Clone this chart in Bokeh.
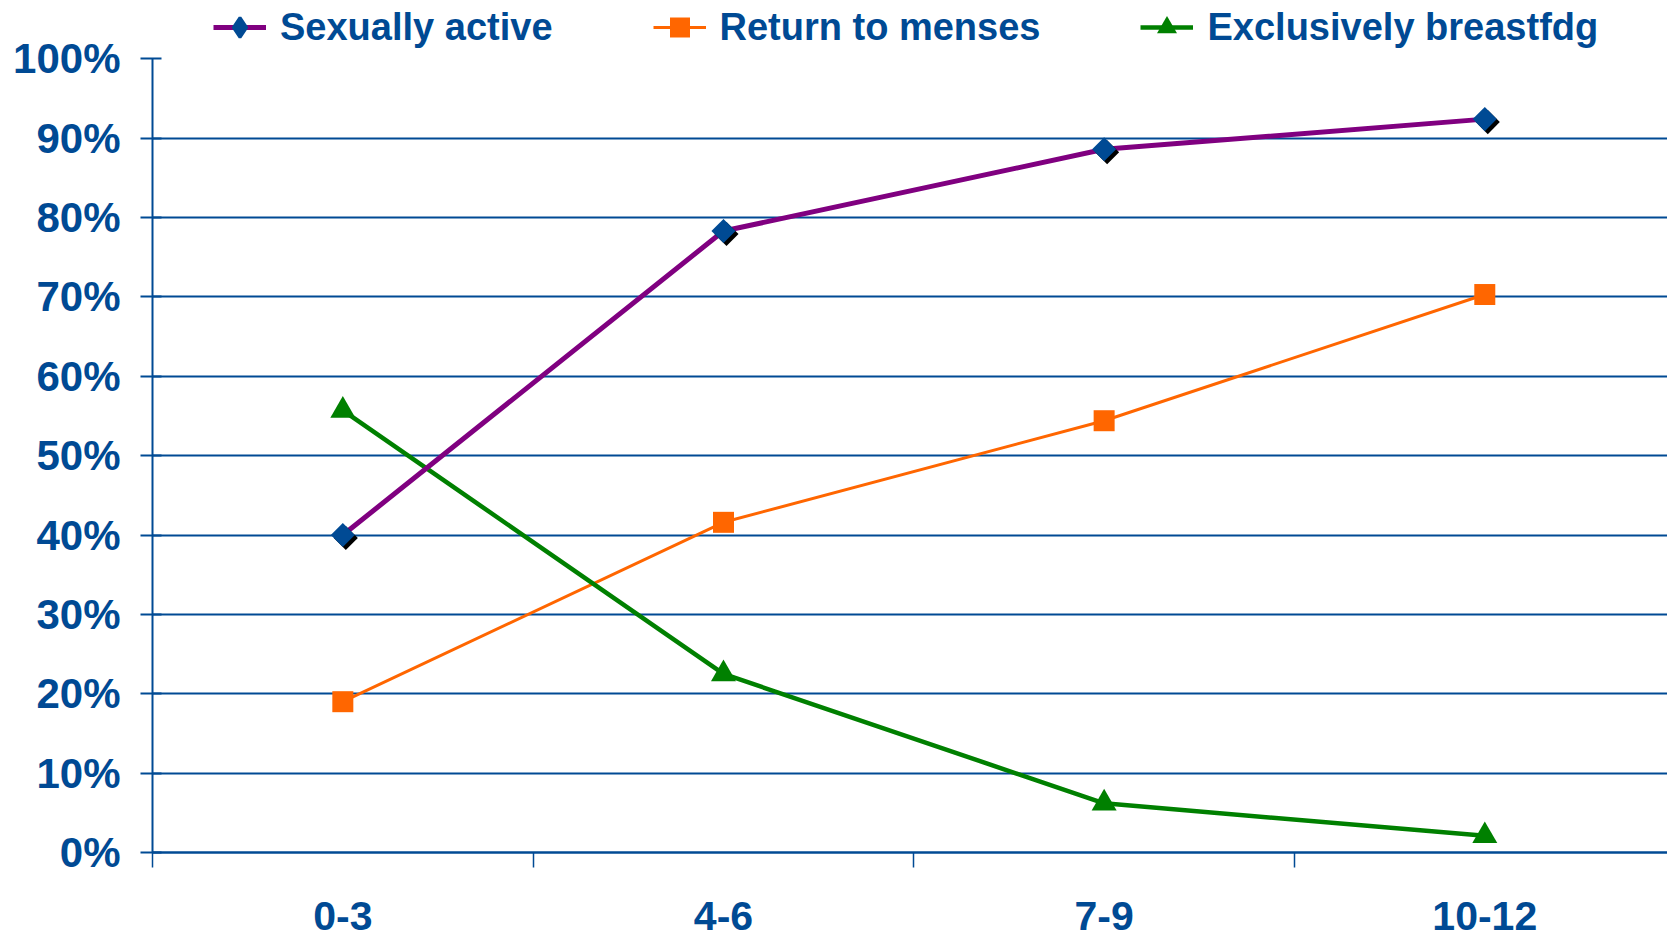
import math
from bokeh.plotting import figure
from bokeh.models import (Range1d, FixedTicker, NumeralTickFormatter, Legend,
                          LegendItem, ColumnDataSource)
from bokeh.transform import dodge
from bokeh.embed import file_html
from bokeh.resources import INLINE

# ---- data ----
categories = ["0-3", "4-6", "7-9", "10-12"]
sexually_active = [0.40, 0.783, 0.886, 0.924]
return_to_menses = [0.19, 0.416, 0.544, 0.703]
exclusively_breastfdg = [0.557, 0.225, 0.062, 0.021]
y_ticks = [0.0, 0.1, 0.2, 0.3, 0.4, 0.5, 0.6, 0.7, 0.8, 0.9, 1.0]
grid_ticks = [0.1, 0.2, 0.3, 0.4, 0.5, 0.6, 0.7, 0.8, 0.9]

x_centers = [i + 0.5 for i in range(len(categories))]
x_bounds = [float(i) for i in range(len(categories) + 1)]

src = ColumnDataSource(dict(x=x_centers, sa=sexually_active,
                            rm=return_to_menses, eb=exclusively_breastfdg))

BLUE = "#004A94"
PURPLE = "#800080"
ORANGE = "#FF6600"
GREEN = "#008000"
FONT = "Liberation Sans"

# layout: frame spans full height above the x axis; 100% sits ~58px below top
FRAME_H = 852
PX_PER_UNIT = 793.7
p = figure(width=1667, height=938, output_backend="svg", toolbar_location=None,
           x_range=Range1d(0, 3.98), y_range=Range1d(0, FRAME_H / PX_PER_UNIT),
           min_border_left=152, min_border_right=0, min_border_top=0,
           min_border_bottom=938 - FRAME_H)
p.outline_line_color = None
p.background_fill_color = "white"
p.border_fill_color = "white"

# lines
l_rm = p.line("x", "rm", source=src, line_color=ORANGE, line_width=3)
l_eb = p.line("x", "eb", source=src, line_color=GREEN, line_width=4.5)
l_sa = p.line("x", "sa", source=src, line_color=PURPLE, line_width=5)

# markers
m_rm = p.scatter("x", "rm", source=src, marker="square", size=21,
                 fill_color=ORANGE, line_color=None)
m_eb = p.scatter("x", "eb", source=src, marker="triangle", size=25,
                 fill_color=GREEN, line_color=None)
# legend glyph for the diamond series (zero size on the plot itself)
m_sa_leg = p.scatter("x", "sa", source=src, marker="diamond", size=0,
                     fill_color=BLUE, line_color=BLUE, line_width=3)
p.scatter(x=dodge("x", 3 / 380.6, range=p.x_range),
          y=dodge("sa", -3 / PX_PER_UNIT, range=p.y_range), source=src,
          marker="square", size=17, angle=math.pi / 4,
          fill_color="black", line_color=None)
m_sa = p.scatter("x", "sa", source=src, marker="square", size=17,
                 angle=math.pi / 4, fill_color=BLUE, line_color=None)

# axes
p.yaxis.bounds = (0, 1)
p.yaxis.ticker = FixedTicker(ticks=y_ticks)
p.yaxis.formatter = NumeralTickFormatter(format="0%")
p.yaxis.axis_line_color = BLUE
p.yaxis.axis_line_width = 2
p.yaxis.major_tick_line_color = BLUE
p.yaxis.major_tick_line_width = 2
p.yaxis.major_tick_out = 12
p.yaxis.major_tick_in = 9
p.yaxis.minor_tick_line_color = None
p.yaxis.major_label_standoff = 20
p.yaxis.major_label_text_font = FONT
p.yaxis.major_label_text_font_style = "bold"
p.yaxis.major_label_text_font_size = "42px"
p.yaxis.major_label_text_color = BLUE

p.xaxis.ticker = FixedTicker(ticks=x_centers, minor_ticks=x_bounds)
p.xaxis.major_label_overrides = {xc: c for xc, c in zip(x_centers, categories)}
p.xaxis.axis_line_color = BLUE
p.xaxis.axis_line_width = 2.5
p.xaxis.major_tick_out = 0
p.xaxis.major_tick_in = 0
p.xaxis.major_tick_line_color = None
p.xaxis.minor_tick_out = 15
p.xaxis.minor_tick_in = 0
p.xaxis.minor_tick_line_color = BLUE
p.xaxis.minor_tick_line_width = 1.5
p.xaxis.major_label_standoff = 34
p.xaxis.major_label_text_font = FONT
p.xaxis.major_label_text_font_style = "bold"
p.xaxis.major_label_text_font_size = "41px"
p.xaxis.major_label_text_color = BLUE

p.xgrid.visible = False
p.ygrid.ticker = FixedTicker(ticks=grid_ticks)
p.ygrid.grid_line_color = BLUE
p.ygrid.grid_line_width = 2

legend = Legend(items=[
    LegendItem(label="Sexually active", renderers=[l_sa, m_sa_leg]),
    LegendItem(label="Return to menses", renderers=[l_rm, m_rm]),
    LegendItem(label="Exclusively breastfdg", renderers=[l_eb, m_eb]),
], orientation="horizontal", location=(61, 800),
    glyph_width=53, glyph_height=50, label_height=50, label_standoff=14,
    spacing=100, padding=0, margin=0, border_line_color=None,
    background_fill_alpha=0,
    label_text_font=FONT, label_text_font_style="bold",
    label_text_font_size="38px", label_text_color=BLUE)
p.add_layout(legend, "center")

open("out.html", "w").write(file_html(p, INLINE))
